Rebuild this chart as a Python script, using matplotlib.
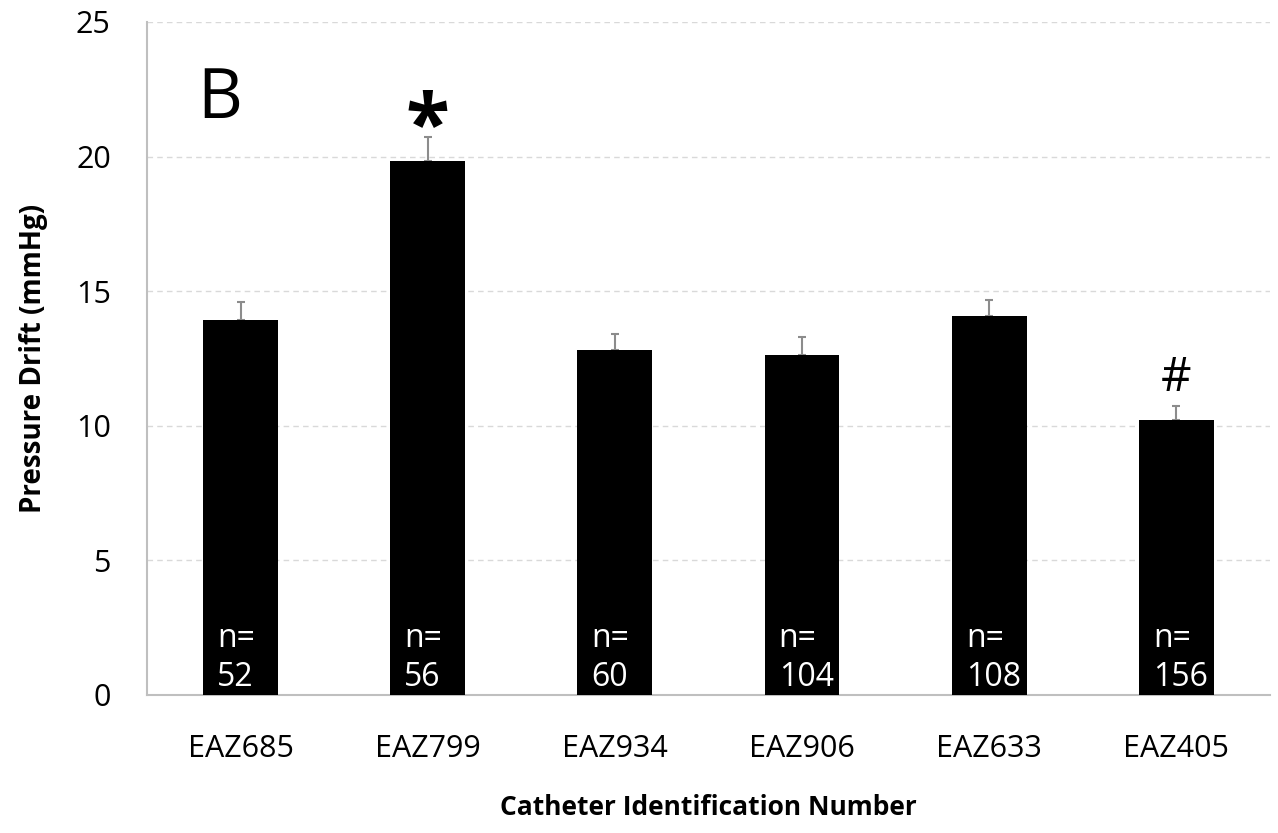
import numpy as np
import matplotlib.pyplot as plt

plt.rcParams['font.family'] = ['Open Sans', 'DejaVu Sans']

catheters = ['EAZ685', 'EAZ799', 'EAZ934', 'EAZ906', 'EAZ633', 'EAZ405']
drift = [13.93, 19.84, 12.82, 12.63, 14.08, 10.22]
err_up = [0.68, 0.88, 0.59, 0.67, 0.59, 0.53]
n_counts = [52, 56, 60, 104, 108, 156]
marks = ['', '*', '', '', '', '#']

fig = plt.figure(figsize=(12.78, 8.33), dpi=100)
ax = fig.add_axes([0.115, 0.1657, 0.8787, 0.808])

x = np.arange(len(catheters))
ax.bar(x, drift, width=0.4, color='black', zorder=3)
ax.errorbar(x, drift, yerr=[np.zeros(len(drift)), err_up], fmt='none',
            ecolor='#8c8c8c', elinewidth=1.5, capsize=3, capthick=1.5, zorder=2)

for xi, n in zip(x, n_counts):
    ax.text(xi - 0.125, 0.05, f'n=\n{n}', color='white', fontsize=23,
            ha='left', va='bottom', linespacing=1.22, zorder=4)

for xi, v, e, m in zip(x, drift, err_up, marks):
    if m == '*':
        ax.text(xi, v + e + 0.3, m, fontsize=58, fontweight='bold',
                ha='center', va='center')
    elif m == '#':
        ax.text(xi, v + e + 0.15, m, fontsize=34, ha='center', va='bottom')

ax.text(-0.11, 22.1, 'B', fontsize=50, ha='center', va='center')

ax.set_xlim(-0.5, len(catheters) - 0.5)
ax.set_ylim(0, 25)
ax.set_yticks(np.arange(0, 26, 5))
ax.set_xticks(x)
ax.set_xticklabels(catheters)
ax.tick_params(axis='both', length=0, labelsize=22)
ax.tick_params(axis='y', pad=26)
ax.tick_params(axis='x', pad=28)

ax.grid(axis='y', color='#d9d9d9', linestyle=(0, (4, 3)), linewidth=1, zorder=0)
for s in ['top', 'right']:
    ax.spines[s].set_visible(False)
ax.spines['left'].set_color('#bfbfbf')
ax.spines['bottom'].set_color('#bfbfbf')
ax.spines['left'].set_linewidth(1.5)
ax.spines['bottom'].set_linewidth(1.5)

ax.set_ylabel('Pressure Drift (mmHg)', fontsize=20, fontweight='bold', labelpad=20)
ax.set_xlabel('Catheter Identification Number', fontsize=19, fontweight='bold', labelpad=22)

fig.savefig('out.png', dpi=100)
